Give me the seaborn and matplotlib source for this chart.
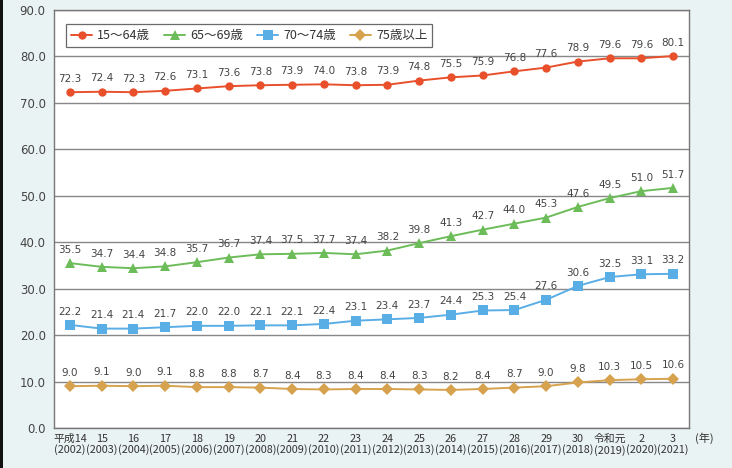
import matplotlib
matplotlib.use("Agg")
import matplotlib.pyplot as plt
import matplotlib.patches as mpatches
import seaborn as sns
import pandas as pd
import numpy as np

years = ["平成14\n(2002)", "15\n(2003)", "16\n(2004)", "17\n(2005)", "18\n(2006)",
         "19\n(2007)", "20\n(2008)", "21\n(2009)", "22\n(2010)", "23\n(2011)",
         "24\n(2012)", "25\n(2013)", "26\n(2014)", "27\n(2015)", "28\n(2016)",
         "29\n(2017)", "30\n(2018)", "令和元\n(2019)", "2\n(2020)", "3\n(2021)"]
series_names = ["15～64歳", "65～69歳", "70～74歳", "75歳以上"]
s15_64 = [72.3, 72.4, 72.3, 72.6, 73.1, 73.6, 73.8, 73.9, 74.0, 73.8,
          73.9, 74.8, 75.5, 75.9, 76.8, 77.6, 78.9, 79.6, 79.6, 80.1]
s65_69 = [35.5, 34.7, 34.4, 34.8, 35.7, 36.7, 37.4, 37.5, 37.7, 37.4,
          38.2, 39.8, 41.3, 42.7, 44.0, 45.3, 47.6, 49.5, 51.0, 51.7]
s70_74 = [22.2, 21.4, 21.4, 21.7, 22.0, 22.0, 22.1, 22.1, 22.4, 23.1,
          23.4, 23.7, 24.4, 25.3, 25.4, 27.6, 30.6, 32.5, 33.1, 33.2]
s75 = [9.0, 9.1, 9.0, 9.1, 8.8, 8.8, 8.7, 8.4, 8.3, 8.4,
       8.4, 8.3, 8.2, 8.4, 8.7, 9.0, 9.8, 10.3, 10.5, 10.6]
y_ticks = [0, 10, 20, 30, 40, 50, 60, 70, 80, 90]

sns.set_theme(style="white")
plt.rcParams['font.family'] = ['Noto Sans CJK JP', 'DejaVu Sans']

all_vals = [s15_64, s65_69, s70_74, s75]
df = pd.DataFrame({
    "x": list(range(len(years))) * 4,
    "value": sum(all_vals, []),
    "series": sum([[n] * len(years) for n in series_names], []),
})

colors = ["#e8502c", "#6cbd5a", "#5aaee6", "#d6a24e"]
markers = ["o", "^", "s", "D"]
msizes = [6, 7, 6.5, 6]

fig = plt.figure(figsize=(7.32, 4.68), dpi=100)
fig.patch.set_facecolor("#eaf3f3")
fig.patches.append(mpatches.Rectangle((0, 0), 3 / 732, 1, transform=fig.transFigure,
                                      facecolor="#111111", edgecolor="none", zorder=0))
ax = fig.add_axes([54 / 732, 1 - 428 / 468, (689 - 54) / 732, (428 - 10) / 468])
ax.set_facecolor("white")

for i, name in enumerate(series_names):
    sub = df[df["series"] == name]
    sns.lineplot(data=sub, x="x", y="value", ax=ax, color=colors[i], marker=markers[i],
                 markersize=msizes[i], markeredgewidth=0, linewidth=1.4, label=name,
                 zorder=3 + i)
    for xi, v in zip(sub["x"], sub["value"]):
        ax.annotate(f"{v:.1f}", (xi, v), xytext=(0, 6), textcoords="offset points",
                    ha="center", va="bottom", fontsize=7.5, color="#444444",
                    family=['DejaVu Sans'], zorder=10)

ax.set_xlim(-0.5, len(years) - 0.5)
ax.set_ylim(0, 90)
ax.set_yticks(y_ticks)
ax.set_yticklabels([f"{t:.1f}" for t in y_ticks], fontsize=8.5, color="#444444",
                   family=['DejaVu Sans'])
ax.set_xticks(range(len(years)))
ax.set_xticklabels(years, fontsize=7.8, color="#333333", linespacing=1.1)
ax.set_xticks(np.arange(0.5, len(years) - 0.5, 1), minor=True)
ax.tick_params(axis="x", which="major", length=0, pad=4)
ax.tick_params(axis="x", which="minor", length=4, direction="in", color="#666666", width=0.9)
ax.tick_params(axis="y", length=0, pad=6)
ax.set_xlabel("")
ax.set_ylabel("")
ax.yaxis.grid(True, color="#888888", linewidth=1.0, zorder=0)
ax.set_axisbelow(True)
for sp in ax.spines.values():
    sp.set_color("#777777")
    sp.set_linewidth(1.0)

leg = ax.legend(loc="upper left", ncol=4, bbox_to_anchor=(0.019, 0.966), frameon=True,
                fancybox=False, edgecolor="#444444", fontsize=9, handlelength=1.7,
                columnspacing=1.1, handletextpad=0.4, borderpad=0.4, borderaxespad=0)
leg.get_frame().set_linewidth(0.9)
for t in leg.get_texts():
    t.set_color("#333333")

fig.text(695 / 732, 1 - 438 / 468, "(年)", fontsize=8, color="#333333",
         ha="left", va="center")

fig.savefig("out.png", dpi=100, facecolor=fig.get_facecolor())
